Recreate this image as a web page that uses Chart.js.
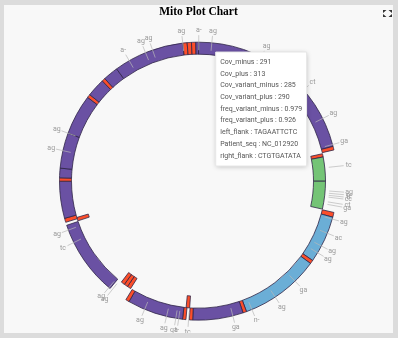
<!DOCTYPE html>
<html>
<head>
<meta charset="utf-8">
<title>Mito Plot Chart</title>
<script src="https://cdn.jsdelivr.net/npm/chart.js@4.4.1/dist/chart.umd.min.js"></script>
<style>
    html, body { margin: 0; padding: 0; background: #dcdcdc; }
    #panel { position: absolute; left: 4px; top: 5px; width: 389px; height: 328px; background: #f8f8f8; }
    #graph { position: absolute; left: 0; top: 0; }
    #full { position: absolute; left: 379px; top: 5px; }
</style>
</head>
<body>
<div id="panel">
    <canvas id="graph" width="389" height="328"></canvas>
    <svg id="full" width="9" height="7" viewBox="0 0 9 7">
        <path d="M0 0 L3.5 0 L0 3 Z M9 0 L5.5 0 L9 3 Z M0 7 L3.5 7 L0 4 Z M9 7 L5.5 7 L9 4 Z" fill="#333"/>
    </svg>
</div>
<script>
// outer track: where each piece ends, degrees clockwise from the top
var outerEnds = [75.5, 77, 103, 105, 124.8, 126.3, 159.8, 161.3, 182.4, 183.8, 185.2, 186.6,
    210, 211.5, 219.5, 251.5, 252.8, 254.5, 270, 271.4, 275.4, 290.2, 307.1, 308.5,
    316.2, 317.6, 323.9, 353.5, 355.3, 357.1, 358.9, 360];
var outerKinds = ['purple', 'variant', 'gap', 'variant', 'blue', 'variant', 'blue', 'variant',
    'purple', 'variant', 'gap', 'variant', 'purple', 'variant', 'gap', 'purple', 'gap', 'variant',
    'purple', 'variant', 'purple', 'purple', 'purple', 'variant', 'purple', 'variant', 'purple',
    'purple', 'variant', 'variant', 'variant', 'purple'];

// inner track
var innerEnds = [77.5, 79, 90, 102.7, 184, 185.6, 212.3, 214, 215.7, 217.4, 251.8, 253.4, 360];
var innerKinds = ['gap', 'variant', 'green', 'green', 'gap', 'variant', 'gap', 'variant',
    'variant', 'variant', 'gap', 'variant', 'gap'];

// site labels round the ring
var siteAngles = [330.1, 337.6, 340.7, 353.5, 0.1, 5.5, 26.8, 49, 63.2, 74.7, 83.9,
    94.3, 95.3, 96.2, 97, 99.1, 100.2, 105.8, 112, 117.8, 121, 136, 146.5, 157.4, 165.7,
    184.1, 188.2, 189.4, 193.3, 202.8, 218.5, 220.1, 243.8, 249.4, 282.7, 290.2];
var siteLabels = ['a-', 'ag', 'ag', 'ag', 'a-', 'ag', 'ag', 'ct', 'ag', 'ga', 'tc',
    'ag', 'c-', 'tt', 'cc', 'ct', 'ga', 'ag', 'ac', 'ag', 'ag', 'ga', 'ag', 'n-', 'ga',
    'tc', 't-', 'ga', 'ag', 'ag', 'ag', 'ag', 'tc', 'ag', 'ag', 'ag'];

// hovered variant
var infoFields = ['Cov_minus', 'Cov_plus', 'Cov_variant_minus', 'Cov_variant_plus',
    'freq_variant_minus', 'freq_variant_plus', 'left_flank', 'Patient_seq', 'right_flank'];
var infoValues = ['291', '313', '285', '290', '0.979', '0.926', 'TAGAATTCTC', 'NC_012920', 'CTGTGATATA'];

var kindColor = {
    purple: '#6a51a3',
    green: '#74c476',
    blue: '#6baed6',
    variant: '#fc4e2a',
    gap: 'rgba(0,0,0,0)'
};

function lengths(ends) {
    return ends.map(function (e, i) { return e - (i ? ends[i - 1] : 0); });
}

function track(ends, kinds) {
    return {
        data: lengths(ends),
        backgroundColor: kinds.map(function (k) { return kindColor[k]; }),
        borderColor: kinds.map(function (k) { return k === 'gap' ? 'rgba(0,0,0,0)' : '#2e2446'; }),
        borderWidth: kinds.map(function (k) { return k === 'gap' ? 0 : 0.8; })
    };
}

var pointerAngle = 7.6;

Chart.Tooltip.positioners.mito = function (items) {
    if (!items.length) return false;
    var arc = items[0].element;
    var a = pointerAngle * Math.PI / 180;
    var r = arc.innerRadius + 3.3;
    return { x: arc.x + r * Math.sin(a), y: arc.y - r * Math.cos(a) };
};

var siteLabelPlugin = {
    id: 'siteLabels',
    afterDatasetsDraw: function (chart) {
        var arc = chart.getDatasetMeta(0).data[0];
        var ctx = chart.ctx;
        var cx = arc.x, cy = arc.y, ro = arc.outerRadius;
        ctx.save();
        ctx.font = '7px Roboto';
        ctx.fillStyle = '#9a9a9a';
        ctx.strokeStyle = '#b8b8b8';
        ctx.lineWidth = 0.7;
        ctx.textAlign = 'center';
        ctx.textBaseline = 'middle';
        siteAngles.forEach(function (deg, i) {
            var a = deg * Math.PI / 180, s = Math.sin(a), c = -Math.cos(a);
            ctx.beginPath();
            ctx.moveTo(cx + (ro - 8) * s, cy + (ro - 8) * c);
            ctx.lineTo(cx + (ro + 7) * s, cy + (ro + 7) * c);
            ctx.stroke();
            ctx.fillText(siteLabels[i], cx + (ro + 12) * s, cy + (ro + 12) * c);
        });
        ctx.restore();
    },
    beforeTooltipDraw: function (chart, args) {
        var t = args.tooltip;
        var ctx = chart.ctx;
        ctx.save();
        ctx.shadowColor = 'rgba(0,0,0,0.28)';
        ctx.shadowBlur = 5;
        ctx.shadowOffsetY = 1;
        ctx.fillStyle = '#fff';
        ctx.fillRect(t.x, t.y, t.width, t.height);
        ctx.restore();
    }
};

document.addEventListener("DOMContentLoaded", function () {
    var ctx = document.getElementById('graph').getContext('2d');
    var mitoChart = new Chart(ctx, {
        type: 'doughnut',
        data: {
            datasets: [track(outerEnds, outerKinds), track(innerEnds, innerKinds)]
        },
        options: {
            responsive: false,
            animation: false,
            events: [],
            radius: 139,
            cutout: (115 / 139 * 100) + '%',
            layout: { padding: 0 },
            plugins: {
                legend: { display: false },
                title: {
                    display: true,
                    text: 'Mito Plot Chart',
                    color: '#000',
                    font: { family: 'Liberation Serif', size: 11.5, weight: 'bold' },
                    padding: { top: 0, bottom: 10.6 }
                },
                tooltip: {
                    enabled: true,
                    animation: false,
                    position: 'mito',
                    xAlign: 'left',
                    yAlign: 'top',
                    caretSize: 0,
                    caretPadding: 0,
                    cornerRadius: 0,
                    displayColors: false,
                    backgroundColor: '#fff',
                    borderColor: '#e6e6e6',
                    borderWidth: 1,
                    bodyColor: '#555',
                    bodyFont: { family: 'Roboto', size: 7 },
                    bodySpacing: 3.3,
                    padding: { top: 6, bottom: 6, left: 4.5, right: 4.5 },
                    callbacks: {
                        title: function () { return ''; },
                        label: function () {
                            return infoFields.map(function (f, i) { return f + ' : ' + infoValues[i]; });
                        }
                    }
                }
            }
        },
        plugins: [siteLabelPlugin]
    });

    mitoChart.tooltip.setActiveElements([{ datasetIndex: 0, index: 0 }], { x: 0, y: 0 });
    mitoChart.update();
});
</script>
</body>
</html>
